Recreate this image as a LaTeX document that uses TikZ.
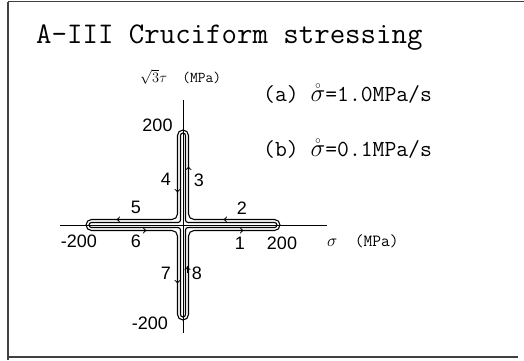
\documentclass[tikz,border=0pt]{standalone}
\usepackage{fontspec}
\usetikzlibrary{arrows.meta}
\newfontfamily\numfont{Liberation Sans}
\tikzset{
  frameline/.style={draw=black!75, line width=1.4pt},
  tube/.style={draw=black, line width=1.1pt},
  axisline/.style={draw=black, line width=0.9pt},
  arr/.style={-{To[length=4pt,width=6pt]}, line width=0.8pt},
  num/.style={font=\numfont\fontsize{18}{18}\selectfont, inner sep=0pt},
  ttx/.style={font=\ttfamily\fontsize{23}{23}\selectfont, inner sep=0pt, anchor=base west},
  unit/.style={font=\ttfamily\fontsize{15}{15}\selectfont, inner sep=0pt, anchor=base west},
}
\newcommand\crossoutline[2]{% #1 half-width, #2 inset of the ends
  \draw[tube, rounded corners=#1pt]
    (230,{225-#1}) -- ({183+#1},{225-#1}) -- ({183+#1},{130+#2}) -- ({183-#1},{130+#2})
    -- ({183-#1},{225-#1}) -- ({86+#2},{225-#1}) -- ({86+#2},{225+#1})
    -- ({183-#1},{225+#1}) -- ({183-#1},{320-#2}) -- ({183+#1},{320-#2})
    -- ({183+#1},{225+#1}) -- ({280-#2},{225+#1}) -- ({280-#2},{225-#1}) -- cycle;
}
\begin{document}
\begin{tikzpicture}[x=1pt,y=-1pt]
\useasboundingbox (0,0) rectangle (524,360);
% frame
\draw[frameline] (8,1.5) -- (524,1.5);
\draw[frameline] (8,1.5) -- (8,360);
\draw[frameline] (8,357) -- (518,357);
% origin
\coordinate (O) at (183,225);
% axes
\draw[axisline] (60,225) -- (327,225);
\draw[axisline] (183,100) -- (183,333);
% tube outlines
\crossoutline{5.5}{0}
\crossoutline{2.5}{3}
% arrows
\draw[arr] (238,230.5) -- (244,230.5);   % 1
\draw[arr] (229,219.5) -- (223,219.5);   % 2
\draw[arr] (188.5,174) -- (188.5,166);   % 3
\draw[arr] (177.5,186) -- (177.5,193);   % 4
\draw[arr] (122,219.5) -- (116,219.5);   % 5
\draw[arr] (141,230.5) -- (147,230.5);   % 6
\draw[arr] (177.5,277) -- (177.5,284);   % 7
\draw[arr] (187.5,273) -- (187.5,266);   % 8
% path labels
\node[num] (l1) at (240,243) {1};
\node[num] (l2) at (242,208) {2};
\node[num] (l3) at (199,180) {3};
\node[num] (l4) at (166,179) {4};
\node[num] (l5) at (136,207) {5};
\node[num] (l6) at (136,241) {6};
\node[num] (l7) at (166,273) {7};
\node[num] (l8) at (197,273) {8};
% tick values
\node[num] (t1) at (157.5,125) {200};
\node[num] (t2) at (79,241) {-200};
\node[num] (t3) at (282,243) {200};
\node[num] (t4) at (150,323) {-200};
% axis titles
\node[unit] (ylab) at (140,82) {$\sqrt{3}\tau$\ \ (MPa)};
\node[unit, font=\ttfamily\fontsize{17}{17}\selectfont] (xlab) at (327,246) {$\sigma$\ \ (MPa)};
% text
\node[font=\ttfamily\fontsize{30}{30}\selectfont, inner sep=0pt, anchor=base west] (title) at (36,43) {A-III Cruciform stressing};
\node[ttx] (ra) at (263,101) {(a) $\mathring{\sigma}$=1.0MPa/s};
\node[ttx] (rb) at (263,156) {(b) $\mathring{\sigma}$=0.1MPa/s};
\end{tikzpicture}
\end{document}
